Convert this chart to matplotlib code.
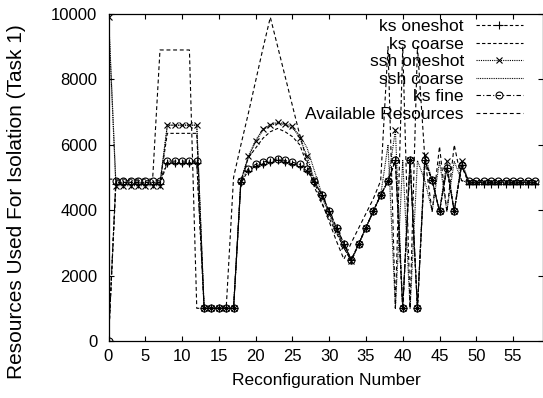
import matplotlib
matplotlib.use("Agg")
import matplotlib.pyplot as plt
import numpy as np

plt.rcParams["font.family"] = ["Liberation Sans", "DejaVu Sans"]

# reconfiguration number 0..58
reconf = list(range(59))

ks_oneshot = ([0] + [4800] * 7 + [5450] * 5 + [1000] * 5
              + [4850, 5200, 5350, 5420, 5480, 5520, 5480, 5420, 5350, 5200, 4850]
              + [4480, 3980, 3470, 2980, 2490, 2960, 3470, 3970, 4460, 4890, 5520]
              + [1000, 5520, 1000, 5520, 4910, 3970, 5280, 3970, 5370]
              + [4800] * 10)

ks_coarse = ([0] + [4850] * 7 + [6350] * 5 + [1000] * 5
             + [4900, 5600, 5900, 6200, 6400, 6500, 6400, 6250, 6000, 5400, 4700]
             + [4200, 3750, 3300, 2850, 2450, 2960, 3470, 3970, 4460, 4890, 5520]
             + [1000, 5520, 1000, 5520, 4910, 3970, 5280, 3970, 5370]
             + [4850] * 10)

ssh_oneshot = ([9900] + [4750] * 7 + [6600] * 5 + [1000] * 5
               + [4900, 5650, 6130, 6490, 6620, 6690, 6640, 6560, 6210, 5650, 4910]
               + [4400, 3900, 3400, 2900, 2450, 2960, 3470, 3970, 4460, 4890, 6450]
               + [1000, 5520, 1000, 5700, 4910, 3970, 5500, 3970, 5500]
               + [4850] * 10)

ssh_coarse = ([10000] + [4850] * 7 + [6600] * 5 + [1000] * 5
              + [4900, 5600, 6100, 6450, 6600, 6650, 6620, 6500, 6300, 5900, 5200]
              + [4500, 3900, 3350, 2850, 2450, 2960, 3470, 3970, 4460, 6000, 1000]
              + [5520, 1000, 5520, 4910, 3970, 5500, 3970, 5500, 4900]
              + [4850] * 10)

ks_fine = ([0] + [4900] * 7 + [5500] * 5 + [1000] * 5
           + [4900, 5270, 5400, 5470, 5520, 5570, 5520, 5470, 5400, 5270, 4890]
           + [4480, 3980, 3470, 2980, 2490, 2960, 3470, 3970, 4460, 4890, 5520]
           + [1000, 5520, 1000, 5520, 4910, 3970, 5280, 3970, 5370]
           + [4900] * 10)

available = ([4950] * 7 + [8900] * 5 + [1000] * 5
             + [5000, 6000, 6950, 7950, 8950, 9900]
             + [9000, 8100, 7200, 6300, 5500, 4850, 4250, 3650, 3050, 2500]
             + [3000, 3450, 3900, 4350, 4900]
             + [9000, 1000, 9000, 1000, 9000, 5600, 3950, 5950, 3950, 6000]
             + [4900] * 11)

fig = plt.figure(figsize=(5.43, 3.98), dpi=100)
ax = fig.add_axes([108.5 / 543, 1 - 341 / 398, (542.5 - 108.5) / 543, (341 - 14) / 398])

lw = 0.8
ax.plot(reconf, ks_oneshot, color="black", lw=lw, dashes=(3, 2), marker="+",
        ms=6, mew=0.8, label="ks oneshot")
ax.plot(reconf, ks_coarse, color="black", lw=lw, dashes=(3, 2), label="ks coarse")
ax.plot(reconf, ssh_oneshot, color="black", lw=lw, dashes=(1, 1), marker="x",
        ms=4.5, mew=0.8, label="ssh oneshot")
ax.plot(reconf, ssh_coarse, color="black", lw=lw, dashes=(0.8, 0.8), label="ssh coarse")
ax.plot(reconf, ks_fine, color="black", lw=lw, dashes=(4, 2, 1, 2), marker="o",
        ms=5, mew=0.8, mfc="none", label="ks fine")
ax.plot(reconf, available, color="black", lw=lw, dashes=(3.5, 2.5),
        label="Available Resources")

ax.set_xlim(0, 59)
ax.set_ylim(0, 10000)
ax.set_xticks(range(0, 56, 5))
ax.set_yticks(range(0, 10001, 2000))
ax.tick_params(direction="in", length=3.5, width=0.8, labelsize=12,
               top=True, right=True)
ax.tick_params(axis="x", pad=6)
ax.tick_params(axis="y", pad=8)
for s in ax.spines.values():
    s.set_linewidth(0.9)

ax.set_xlabel("Reconfiguration Number", fontsize=12.5)
ax.set_ylabel("Resources Used For Isolation (Task 1)", fontsize=15)
ax.xaxis.set_label_coords(0.503, -0.097)
ax.yaxis.set_label_coords(-0.191, 0.425)

leg = ax.legend(loc="upper right", bbox_to_anchor=(522.7 / 543, 1 - 19 / 398),
                bbox_transform=fig.transFigure, frameon=False, markerfirst=False,
                fontsize=12.5, handlelength=2.7, handletextpad=0.69,
                labelspacing=0.14, borderpad=0, borderaxespad=0)

fig.savefig("out.png", dpi=100)
